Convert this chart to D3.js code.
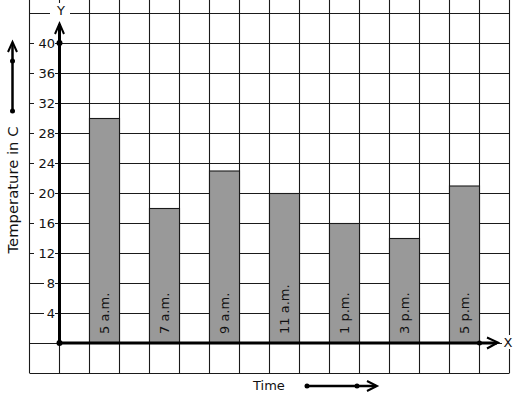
<!DOCTYPE html>
<html><head><meta charset="utf-8">
<script src="https://cdn.jsdelivr.net/npm/d3@7"></script>
<style>body{margin:0;background:#fff}svg{display:block}text{font-family:"DejaVu Sans",Verdana,sans-serif;fill:#111}</style>
</head><body><svg id="c" width="517" height="399"></svg>
<script>
const categories = ["5 a.m.","7 a.m.","9 a.m.","11 a.m.","1 p.m.","3 p.m.","5 p.m."];
const values = [30,18,23,20,16,14,21];
const yTicks = [4,8,12,16,20,24,28,32,36,40];

const svg = d3.select("#c");
const y = d3.scaleLinear().domain([0,40]).range([343,43]);
const col = d3.scaleLinear().domain([-1,15]).range([29.5,509.5]);
const x = d3.scaleBand().domain(categories).range([col(1),col(15)-30]).paddingInner(0.5).paddingOuter(0);
const ink = "#1a1a1a";

// grid
const g = svg.append("g");
g.selectAll("line.v").data(d3.range(-1,16)).join("line")
  .attr("x1",d=>col(d)).attr("x2",d=>col(d)).attr("y1",y(48)).attr("y2",y(-4))
  .attr("stroke",ink).attr("stroke-width",1.1);
g.selectAll("line.h").data(d3.range(-4,52,4)).join("line")
  .attr("y1",d=>Math.round(y(d))+0.5).attr("y2",d=>Math.round(y(d))+0.5).attr("x1",col(-1)).attr("x2",col(15))
  .attr("stroke",ink).attr("stroke-width",1.1);

// bars
svg.selectAll("rect.bar").data(values).join("rect")
  .attr("x",(d,i)=>x(categories[i])).attr("width",x.bandwidth())
  .attr("y",d=>y(d)+0.5).attr("height",d=>y(0)-y(d))
  .attr("fill","#999999").attr("stroke",ink).attr("stroke-width",1.1);

// bar labels
svg.selectAll("text.bl").data(categories).join("text")
  .attr("transform",d=>`translate(${x(d)+x.bandwidth()/2+4},334) rotate(-90)`)
  .attr("font-size",13).text(d=>d);

// axes
svg.append("rect").attr("x",50).attr("y",3).attr("width",20).attr("height",19).attr("fill","#fff");
svg.append("line").attr("x1",col(0)).attr("x2",col(0)).attr("y1",y(0)).attr("y2",24)
  .attr("stroke","#000").attr("stroke-width",3);
svg.append("path").attr("d",`M${col(0)-4.5},34 L${col(0)},23.5 L${col(0)+4.5},34`).attr("fill","none").attr("stroke","#000").attr("stroke-width",2);
svg.append("line").attr("x1",col(0)).attr("x2",497).attr("y1",y(0)).attr("y2",y(0))
  .attr("stroke","#000").attr("stroke-width",3);
svg.append("path").attr("d",`M487,337.5 L498,342.5 L487,348.5`).attr("fill","none").attr("stroke","#000").attr("stroke-width",2);
svg.append("circle").attr("cx",col(0)).attr("cy",y(0)).attr("r",3).attr("fill","#000");
svg.append("circle").attr("cx",col(0)).attr("cy",y(40)).attr("r",3).attr("fill","#000");
svg.append("circle").attr("cx",col(14)).attr("cy",y(0)).attr("r",2.5).attr("fill","#000");

// tick labels with white backing
const tl = svg.selectAll("g.tick").data(yTicks).join("g").attr("transform",d=>`translate(55,${y(d)})`);
tl.append("rect").attr("x",d=>d<10?-11:-21).attr("y",-7).attr("width",d=>d<10?11:21).attr("height",14).attr("fill","#fff");
tl.append("text").attr("text-anchor","end").attr("dy","0.36em").attr("font-size",13).text(d=>d);

// axis letters
svg.append("text").attr("x",61).attr("y",15).attr("text-anchor","middle").attr("font-size",13).text("Y");
svg.append("rect").attr("x",502).attr("y",335).attr("width",13).attr("height",14).attr("fill","#fff");
svg.append("text").attr("x",508).attr("y",347).attr("text-anchor","middle").attr("font-size",13).text("X");

// y title and arrow
svg.append("text").attr("transform","translate(17.5,190) rotate(-90)").attr("text-anchor","middle").attr("font-size",14.8).text("Temperature in C");
svg.append("line").attr("x1",12.5).attr("x2",12.5).attr("y1",111).attr("y2",43).attr("stroke","#000").attr("stroke-width",2.5);
svg.append("path").attr("d","M8,52 L12.5,42 L17,52").attr("fill","none").attr("stroke","#000").attr("stroke-width",2);
svg.append("circle").attr("cx",12.5).attr("cy",61).attr("r",2.5).attr("fill","#000");
svg.append("circle").attr("cx",12.5).attr("cy",111).attr("r",2.5).attr("fill","#000");

// x title and arrow
svg.append("text").attr("x",253).attr("y",390).attr("font-size",13).text("Time");
svg.append("line").attr("x1",307).attr("x2",376).attr("y1",386).attr("y2",386).attr("stroke","#000").attr("stroke-width",2.5);
svg.append("path").attr("d","M367,381 L377,386 L367,391").attr("fill","none").attr("stroke","#000").attr("stroke-width",2);
svg.append("circle").attr("cx",307).attr("cy",386).attr("r",2.5).attr("fill","#000");
svg.append("circle").attr("cx",357).attr("cy",386).attr("r",2.5).attr("fill","#000");
</script></body></html>
